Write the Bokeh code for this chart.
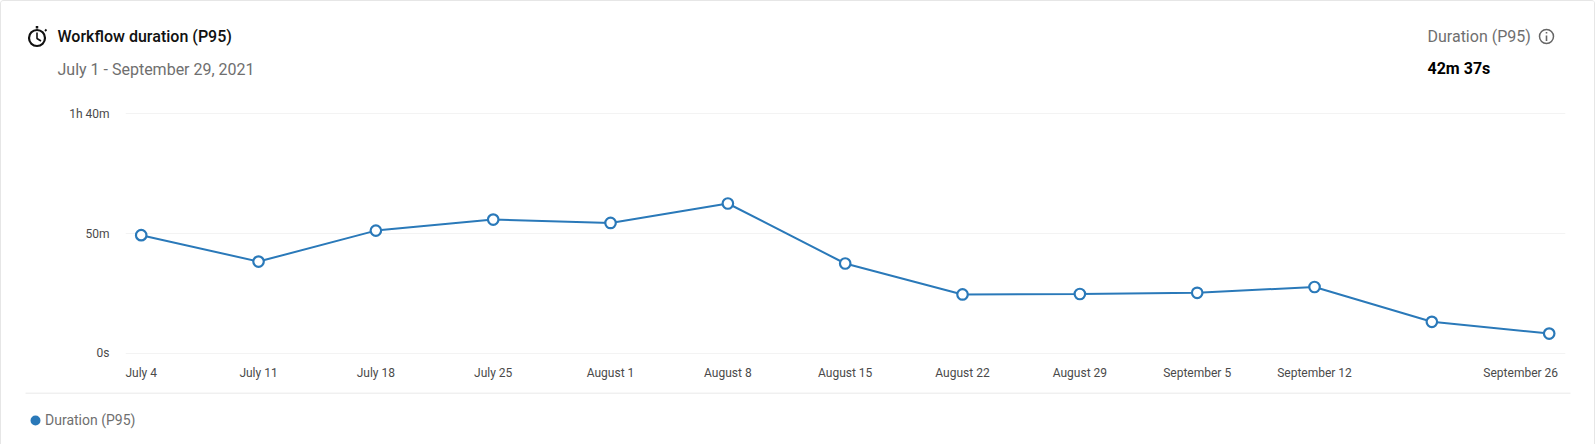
from datetime import datetime
from bokeh.plotting import figure
from bokeh.layouts import column
from bokeh.models import Range1d, FixedTicker, Label, Legend, LegendItem, ColumnDataSource
from bokeh.embed import file_html
from bokeh.resources import INLINE

dates = ["2021-07-04","2021-07-11","2021-07-18","2021-07-25","2021-08-01","2021-08-08","2021-08-15",
         "2021-08-22","2021-08-29","2021-09-05","2021-09-12","2021-09-19","2021-09-26"]
duration_min = [49.3, 38.3, 51.2, 55.8, 54.4, 62.5, 37.5, 24.6, 24.8, 25.3, 27.7, 13.2, 8.3]
tick_labels = ["July 4","July 11","July 18","July 25","August 1","August 8","August 15",
               "August 22","August 29","September 5","September 12","September 26"]
y_ticks = [0, 50, 100]
y_labels = ["0s", "50m", "1h 40m"]

W = 1593
HEAD_H, MAIN_H, FOOT_H = 99, 292, 52
BLUE = "#2a79b9"
FONT = "Roboto"
GREY = "#6f6f6f"
DAY = 86400000.0
O = 1  # the card's border


def decor(h):
    """A figure whose frame fills it, with a range in the card's own pixels."""
    f = figure(width=W, height=h, output_backend="svg", toolbar_location=None,
               x_range=Range1d(0, W), y_range=Range1d(h, 0), frame_align=False,
               min_border=0, outline_line_color=None, background_fill_color="white", border_fill_color="white")
    f.xaxis.visible = False
    f.yaxis.visible = False
    f.grid.visible = False
    return f


def lab(f, text, x, y, size, color, style="normal", align="left", font=FONT):
    f.add_layout(Label(x=x-O, y=y-O, text=text, text_font=font, text_font_size=size, text_color=color,
                       text_font_style=style, text_align=align, text_baseline="middle"))


def seg(f, xs, ys, color, width):
    f.line([a-O for a in xs], [b-O for b in ys], line_color=color, line_width=width)


# ---- header
head = decor(HEAD_H)
lab(head, "Workflow duration (P95)", 57, 36, "16px", "#111111", font="Roboto Medium")
lab(head, "July 1 - September 29, 2021", 57, 68.5, "16px", GREY)
lab(head, "Duration (P95)", 1427, 35.5, "16px", GREY)
lab(head, "42m 37s", 1427, 67.5, "16px", "#000000", style="bold")
# stopwatch icon
head.scatter([36.5-O], [37.5-O], marker="circle", size=16, fill_color="white", line_color="#111111", line_width=2.2)
seg(head, [36.5, 36.5], [25.5, 28], "#111111", 2.5)
seg(head, [36.5, 36.5, 40.5], [32, 38, 40.5], "#111111", 1.6)
seg(head, [44.5, 46], [30.5, 29], "#111111", 1.8)
# info icon
head.scatter([1546-O], [36-O], marker="circle", size=14, fill_color="white", line_color="#666666", line_width=1.5)
seg(head, [1546, 1546], [35, 40.5], "#666666", 1.6)
seg(head, [1546, 1546], [31.5, 33], "#666666", 1.6)

# ---- chart
xms = [datetime.strptime(d, "%Y-%m-%d").timestamp()*1000 for d in dates]
# the last label is pulled in so that it ends inside the plot area
label_ticks = xms[:-2] + [xms[-1] - 1.70*DAY]

p = figure(width=W, height=MAIN_H, output_backend="svg", toolbar_location=None, frame_align=False,
           x_range=Range1d(xms[0]-0.937*DAY, xms[-1]+0.973*DAY), y_range=Range1d(-0.42, 100.42),
           min_border_left=125-O, min_border_right=W-(1565-O), min_border_top=12, min_border_bottom=38,
           background_fill_color="white", border_fill_color="white", outline_line_color=None)
p.xgrid.visible = False
p.ygrid.ticker = FixedTicker(ticks=y_ticks)
p.ygrid.grid_line_color = "#f3f3f3"
p.ygrid.grid_line_width = 1
for ax in (p.xaxis[0], p.yaxis[0]):
    ax.axis_line_color = None
    ax.major_tick_line_color = None
    ax.minor_tick_line_color = None
    ax.major_tick_out = 0
    ax.major_label_text_font = FONT
    ax.major_label_text_font_size = "12px"
    ax.major_label_text_color = "#4a4a4a"
p.xaxis[0].ticker = FixedTicker(ticks=label_ticks)
p.xaxis[0].major_label_overrides = {m: t for m, t in zip(label_ticks, tick_labels)}
p.xaxis[0].major_label_standoff = 11
p.yaxis[0].ticker = FixedTicker(ticks=y_ticks)
p.yaxis[0].major_label_overrides = {t: l for t, l in zip(y_ticks, y_labels)}
p.yaxis[0].major_label_standoff = 16

src = ColumnDataSource(dict(x=xms, y=duration_min))
p.line("x", "y", source=src, line_color=BLUE, line_width=2)
p.scatter("x", "y", source=src, size=10.5, fill_color="white", line_color=BLUE, line_width=2.2)

# ---- footer: separator and legend
foot = decor(FOOT_H)
foot.line([25-O, 1570-O], [0.5, 0.5], line_color="#e2e2e2", line_width=1)
dot = foot.scatter([-100], [-100], marker="circle", size=10, fill_color=BLUE, line_color=BLUE, line_width=2)
leg = Legend(items=[LegendItem(label="Duration (P95)", renderers=[dot])], location=(24, 14),
             background_fill_alpha=0, border_line_color=None, margin=0, padding=0, spacing=0,
             glyph_width=20, glyph_height=20, label_standoff=0, label_height=12,
             label_text_font=FONT, label_text_font_size="14px", label_text_color=GREY)
foot.add_layout(leg, "center")

page = column(head, p, foot, spacing=0,
              styles={"border-top": "1px solid #e6e6e6", "border-left": "1px solid #e6e6e6",
                      "border-right": "1px solid #e6e6e6", "border-radius": "4px 4px 0 0", "background": "white"})
open("out.html", "w").write(file_html(page, INLINE))
